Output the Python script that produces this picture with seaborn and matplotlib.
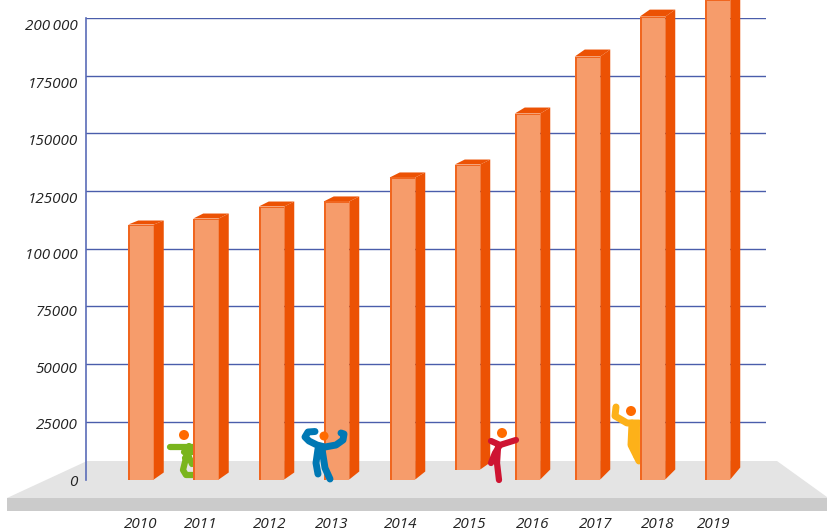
import matplotlib
matplotlib.use("Agg")
import matplotlib.pyplot as plt
import pandas as pd
import seaborn as sns
from matplotlib.patches import Circle, Polygon, Rectangle
from matplotlib.transforms import Affine2D

years = ["2010", "2011", "2012", "2013", "2014", "2015", "2016", "2017", "2018", "2019"]
values = [110500, 113100, 118300, 120500, 130900, 136500, 158600, 183300, 200600, 208000]
y_ticks = [0, 25000, 50000, 75000, 100000, 125000, 150000, 175000, 200000]
y_labels = ["0", "25000", "50000", "75000", "100\u2009000", "125000", "150000", "175000", "200\u2009000"]

# layout, in pixels of the 827x530 picture
bar_centres = [141, 206, 271.5, 336.5, 402.5, 467.5, 527.5, 587.5, 652.5, 717.5]
label_centres = [141, 201, 270, 332, 401, 470, 533, 596, 658, 714]
label_drop = [1, 2, 3, 4, 5, 6, 6, 7, 7]
top_rise = [4, 5, 5, 5, 5, 5, 6, 7, 7, 7]
bottom_rise = [7, 7, 7, 8, 8, 7, 10, 10, 10, 12]
bar_lift = [0, 0, 0, 0, 0, 10, 0, 0, 0, 0]
depth = 10
bar_width = 25.5

FRONT = "#F69C6B"
SIDE = "#EC5204"
EDGE = "#F0661F"
GRID = "#4A5DAB"
HEAD = "#FF6A00"

sns.set_style("white")
plt.rcParams["font.family"] = ["Open Sans", "DejaVu Sans"]

fig = plt.figure(figsize=(8.27, 5.30), dpi=100)
ax = fig.add_axes([86 / 827, 1 - 479.5 / 530, 680 / 827, 461.5 / 530])
ax.patch.set_alpha(0)

df = pd.DataFrame({"x": bar_centres, "value": values})
sns.barplot(data=df, x="x", y="value", native_scale=True, orient="x", color=FRONT,
            saturation=1, width=bar_width / 60, ax=ax, zorder=3, clip_on=False, linewidth=0)

ax.set_xlim(86, 766)
ax.set_ylim(0, 200000)
ax.set_xlabel("")
ax.set_ylabel("")
per_px = 200000 / 461.5

# pixel coordinates for the platform and the little figures
px = Affine2D().scale(1, -1).translate(0, 530)


def add_poly(points, color, zorder):
    ax.add_patch(Polygon(points, closed=True, facecolor=color, edgecolor="none",
                         transform=px, zorder=zorder, clip_on=False))


add_poly([(7, 498), (87, 461), (777, 461), (827, 497), (827, 498)], "#E4E4E4", 0.2)
add_poly([(7, 498), (827, 498), (827, 511), (7, 511)], "#CBCBCB", 0.2)

# fake 3D sides on every bar
for bar, rise_t, rise_b, lift in zip(list(ax.patches), top_rise, bottom_rise, bar_lift):
    x0 = bar.get_x()
    x1 = x0 + bar.get_width()
    top = bar.get_height()
    bottom = lift * per_px
    bar.set_y(bottom)
    bar.set_height(top - bottom)
    side = [(x1, top), (x1 + depth, top + rise_t * per_px),
            (x1 + depth, bottom + rise_b * per_px), (x1, bottom)]
    lid = [(x0, top), (x0 + depth, top + rise_t * per_px),
           (x1 + depth, top + rise_t * per_px), (x1, top)]
    ax.add_patch(Polygon(side, facecolor=SIDE, edgecolor="none", zorder=3, clip_on=False))
    ax.add_patch(Polygon(lid, facecolor=SIDE, edgecolor="none", zorder=3, clip_on=False))
    ax.add_patch(Rectangle((x0, bottom), 2, top - bottom, facecolor=EDGE, edgecolor="none",
                           zorder=3.1, clip_on=False))
    ax.add_patch(Rectangle((x0, top - 1.5 * per_px), x1 - x0, 1.5 * per_px, facecolor=EDGE,
                           edgecolor="none", zorder=3.1, clip_on=False))


def person(head, head_r, strokes, color, width, zorder):
    for stroke in strokes:
        xs, ys = zip(*stroke)
        ax.plot(xs, ys, color=color, lw=width, solid_capstyle="round", solid_joinstyle="round",
                transform=px, zorder=zorder, clip_on=False)
    ax.add_patch(Circle(head, head_r, facecolor=HEAD, edgecolor="none", transform=px,
                        zorder=zorder + 0.1, clip_on=False))


person((184, 435), 5, [[(170, 446.5), (193, 446.5)], [(189, 446), (186, 458), (183, 470), (186, 475), (193, 475)],
                       [(186, 450), (192, 464)], [(184, 452), (193, 452)], [(185, 458), (190, 452)]], "#7AB51D", 4.5, 2)
person((324, 436), 4.5, [[(315, 431.5), (308, 432), (305, 437), (309, 441), (317, 445), (325, 447), (336, 445), (343, 440), (344, 434), (341, 433)],
                         [(318, 449), (316, 463), (318, 474)], [(322, 449), (325, 468), (330, 479)]],
       "#0078B4", 5, 4)
person((502, 433), 5, [[(491, 441), (500, 445), (516, 440)], [(500, 445), (495, 453), (491, 463)],
                       [(498, 447), (497, 463), (499, 480)]], "#CE1432", 4.5, 4)
person((631, 411), 5, [[(616, 407), (615, 416), (627, 423), (639, 423)], [(632, 423), (631, 445), (639, 461)],
                       [(636, 424), (636, 455)]], "#FDB119", 5, 2)

# axis, grid and labels
ax.set_axisbelow(True)
ax.set_yticks(y_ticks, y_labels, fontsize=11, style="italic", color="#222222")
ax.set_xticks(label_centres, years, fontsize=11, style="italic", color="#222222")
ax.tick_params(axis="x", length=0, pad=27)
ax.tick_params(axis="y", length=0, pad=6)
ax.yaxis.grid(True, color=GRID, lw=1)
ax.xaxis.grid(False)
ax.get_ygridlines()[0].set_visible(False)
sns.despine(ax=ax, top=True, right=True, bottom=True)
ax.spines["left"].set_color("#5A6CB8")
ax.spines["left"].set_linewidth(1.2)

for label, drop in zip(ax.get_yticklabels(), label_drop):
    label.set_transform(label.get_transform() + Affine2D().translate(0, -drop))

fig.savefig("out.png", dpi=100)
plt.close(fig)
